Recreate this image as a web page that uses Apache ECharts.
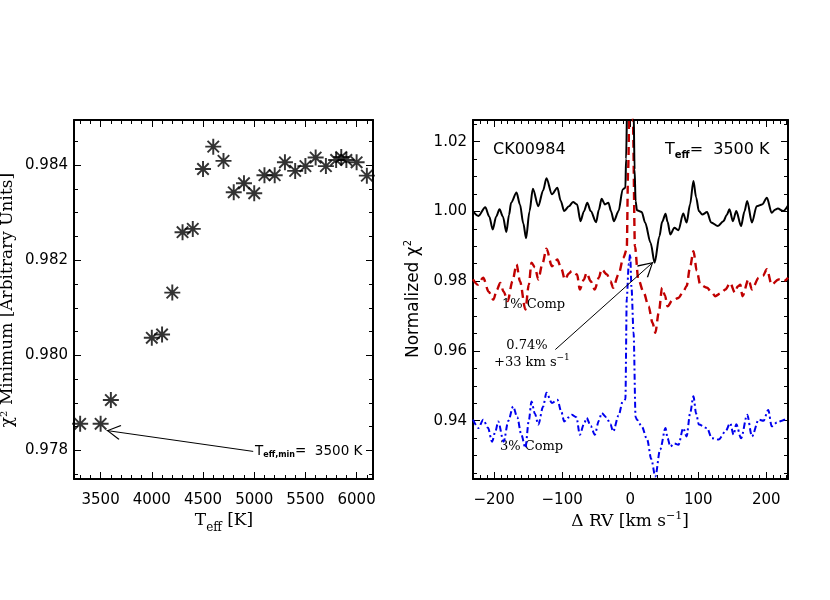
<!DOCTYPE html>
<html>
<head>
<meta charset="utf-8">
<script src="https://cdn.jsdelivr.net/npm/echarts@6.0.0/dist/echarts.min.js"></script>
<style>
html, body { margin: 0; padding: 0; background: #fff; }
#chart { width: 830px; height: 600px; }
</style>
</head>
<body>
<div id="chart"></div>
<script>
// left panel: chi^2 minimum for each template temperature
const teff = [3300, 3500, 3600, 4000, 4100, 4200, 4300, 4400, 4500, 4600, 4700, 4800, 4900,
  5000, 5100, 5200, 5300, 5400, 5500, 5600, 5700, 5800, 5850, 5900, 6000, 6100];
const chiMin = [0.97856, 0.97856, 0.97906, 0.98037, 0.98044, 0.98132, 0.98259, 0.98266, 0.98392,
  0.98439, 0.98409, 0.98343, 0.98362, 0.98341, 0.98379, 0.98379, 0.98406, 0.98388, 0.98398,
  0.98416, 0.98398, 0.98411, 0.98417, 0.98411, 0.98406, 0.98378];

// right panel: normalized chi^2 against RV shift
const rvSolid = [-231, -223, -213, -207, -202, -197, -192, -187, -182, -178, -175, -167, -162, -157, -153,
  -148, -143, -135, -128, -123, -115, -107, -102, -97, -90, -84, -78, -73, -68, -63, -58, -50, -46, -42,
  -37, -32, -28, -24, -17, -11, -7, -6, -4, -1, 2, 5, 6.5, 8, 10, 17, 22, 30, 36, 43, 47, 52, 55, 59, 65,
  71, 78, 83, 88, 93, 97, 101, 106, 113, 119, 129, 137, 142, 146, 151, 156, 163, 168, 172, 179, 186,
  194, 201, 208, 213, 217, 225, 232];
const chiSolid = [1.0000, 0.9987, 1.0012, 0.9985, 0.9948, 0.9985, 1.0006, 0.9985, 0.9941, 0.9990, 1.0025,
  1.0054, 1.0020, 0.9965, 0.9923, 1.0000, 1.0065, 1.0015, 1.0060, 1.0095, 1.0049, 1.0068, 1.0030, 1.0001,
  1.0015, 1.0027, 1.0020, 0.9972, 1.0000, 1.0025, 1.0001, 0.9969, 1.0005, 1.0036, 1.0020, 1.0025, 1.0000,
  0.9972, 1.0001, 1.0063, 1.0068, 1.0150, 1.0350, 1.0580, 1.0580, 1.0300, 1.0120, 1.0030, 1.0003, 0.9998,
  0.9968, 0.9910, 0.9853, 0.9929, 0.9970, 0.9993, 0.9970, 0.9934, 0.9953, 0.9946, 0.9994, 0.9968, 1.0020,
  1.0087, 1.0040, 1.0001, 0.9991, 0.9998, 0.9968, 0.9958, 0.9972, 0.9990, 1.0006, 0.9972, 1.0001, 0.9958,
  1.0000, 1.0030, 0.9968, 1.0015, 1.0020, 1.0039, 0.9996, 1.0005, 1.0008, 1.0001, 1.0017];

const rvComp1 = [-231, -224, -216, -208, -201, -196, -191, -186, -180, -173, -167, -162, -154, -149, -145,
  -140, -135, -129, -123, -115, -107, -101, -96, -90, -86, -78, -74, -68, -64, -58, -52, -46, -42, -34,
  -29, -25, -17, -10, -5, -3, 0, 2, 4, 7, 12, 20, 27, 33, 37, 42, 47, 51, 55, 62, 71, 78, 83, 88, 93, 98,
  103, 113, 119, 125, 133, 140, 147, 154, 158, 162, 165, 174, 179, 189, 195, 201, 208, 218, 226, 232];
const chiComp1 = [0.9805, 0.9790, 0.9810, 0.9770, 0.9747, 0.9775, 0.9795, 0.9770, 0.9743, 0.9800, 0.9848,
  0.9800, 0.9719, 0.9790, 0.9853, 0.9840, 0.9805, 0.9850, 0.9893, 0.9843, 0.9862, 0.9835, 0.9805, 0.9822,
  0.9829, 0.9819, 0.9776, 0.9805, 0.9824, 0.9800, 0.9776, 0.9810, 0.9834, 0.9819, 0.9800, 0.9781, 0.9820,
  0.9867, 0.9891, 1.0120, 1.0450, 1.0500, 1.0260, 0.9900, 0.9805, 0.9767, 0.9728, 0.9680, 0.9652, 0.9710,
  0.9781, 0.9760, 0.9728, 0.9745, 0.9752, 0.9770, 0.9786, 0.9840, 0.9886, 0.9830, 0.9790, 0.9781, 0.9770,
  0.9757, 0.9765, 0.9776, 0.9795, 0.9767, 0.9785, 0.9790, 0.9757, 0.9805, 0.9776, 0.9810, 0.9815, 0.9834,
  0.9790, 0.9805, 0.9800, 0.9810];

const rvComp3 = [-231, -223, -216, -209, -203, -198, -194, -186, -179, -172, -166, -160, -154, -149, -145,
  -140, -135, -128, -123, -115, -107, -101, -97, -90, -86, -79, -74, -68, -64, -58, -52, -46, -42, -35,
  -29, -25, -17, -11, -7, -5, -2, 0, 2, 5, 8, 10, 17, 25, 31, 37, 44, 52, 55, 59, 65, 71, 78, 83, 88, 93,
  97, 101, 113, 120, 130, 140, 147, 152, 156, 163, 172, 179, 189, 196, 203, 208, 216, 223, 231];
const chiComp3 = [0.9403, 0.9379, 0.9403, 0.9380, 0.9340, 0.9370, 0.9398, 0.9340, 0.9400, 0.9441, 0.9410,
  0.9360, 0.9322, 0.9400, 0.9455, 0.9420, 0.9389, 0.9440, 0.9480, 0.9451, 0.9460, 0.9425, 0.9398, 0.9410,
  0.9417, 0.9410, 0.9360, 0.9390, 0.9408, 0.9385, 0.9360, 0.9400, 0.9422, 0.9410, 0.9390, 0.9369, 0.9415,
  0.9455, 0.9461, 0.9750, 0.9850, 0.9877, 0.9780, 0.9653, 0.9410, 0.9403, 0.9384, 0.9346, 0.9290, 0.9240,
  0.9317, 0.9379, 0.9350, 0.9326, 0.9335, 0.9331, 0.9379, 0.9355, 0.9420, 0.9470, 0.9420, 0.9389, 0.9379,
  0.9350, 0.9346, 0.9369, 0.9393, 0.9360, 0.9390, 0.9350, 0.9417, 0.9355, 0.9403, 0.9400, 0.9431, 0.9384,
  0.9395, 0.9400, 0.9408];

// tick labels
const teffTicks = [3500, 4000, 4500, 5000, 5500, 6000];
const chiTicks = [0.978, 0.980, 0.982, 0.984];
const rvTicks = [-200, -100, 0, 100, 200];
const normTicks = [0.94, 0.96, 0.98, 1.00, 1.02];

function steps(from, to, step, dec) {
  const out = [];
  const n = Math.round((to - from) / step);
  for (let i = 0; i <= n; i++) out.push(+(from + i * step).toFixed(dec));
  return out;
}
const teffMinor = steps(3300, 6100, 100, 0);
const chiMinor = steps(0.9775, 0.985, 0.0005, 4);
const rvMinor = steps(-230, 230, 10, 0);
const normMinor = steps(0.925, 1.025, 0.005, 3);

const asterisk = 'path://M-0.85,-7L-0.85,7L0.85,7L0.85,-7Z M-7,0.85L7,0.85L7,-0.85L-7,-0.85Z ' +
  'M-5.6,-4.4L4.4,5.6L5.6,4.4L-4.4,-5.6Z M-4.4,5.6L5.6,-4.4L4.4,-5.6L-5.6,4.4Z';
// open arrow head; tiny dots pad the box to 30x30 so the tip sits at its centre
const openHead = 'path://M8,0L16,14L15,15L8,2.2L1,15L0,14Z M8,-15L8.01,-15L8,-14.99Z ' +
  'M-7,0L-6.99,0L-7,0.01Z M23,0L23.01,0L23,0.01Z';

function boxAxes(grid, min, max, major, minor, fmt, dir) {
  const pos = dir === 'x' ? ['bottom', 'top'] : ['left', 'right'];
  const base = { gridIndex: grid, type: 'value', min: min, max: max, splitLine: { show: false } };
  const line = { show: true, onZero: false, lineStyle: { color: '#000', width: 2 } };
  const noLine = { show: false, onZero: false };
  const tick = (vals, len) => ({ show: true, inside: true, length: len, customValues: vals,
    lineStyle: { color: '#000', width: 1 } });
  return [
    Object.assign({}, base, { position: pos[0], axisLine: line, axisTick: tick(major, 7),
      axisLabel: { show: true, customValues: major, formatter: fmt, color: '#000',
        fontFamily: 'DejaVu Sans', fontSize: 15, margin: dir === 'x' ? 14 : 6 } }),
    Object.assign({}, base, { position: pos[0], axisLine: noLine, axisTick: tick(minor, 4), axisLabel: { show: false } }),
    Object.assign({}, base, { position: pos[1], axisLine: line, axisTick: tick(major, 7), axisLabel: { show: false } }),
    Object.assign({}, base, { position: pos[1], axisLine: noLine, axisTick: tick(minor, 4), axisLabel: { show: false } })
  ];
}

const fmtRv = v => (v < 0 ? '\u2212' + Math.abs(v) : String(v));

const serif = 'DejaVu Serif';
const sans = 'DejaVu Sans';
function richSet(family, size, subSize, bold) {
  return {
    m: { fontFamily: family, fontSize: size, lineHeight: size + 2, verticalAlign: 'top', fill: '#000' },
    b: { fontFamily: family, fontSize: subSize, fontWeight: bold ? 'bold' : 'normal', lineHeight: subSize,
      padding: [Math.round(size * 0.5), 0, 0, 0], verticalAlign: 'top', fill: '#000' },
    p: { fontFamily: family, fontSize: subSize, lineHeight: subSize, padding: [0, 0, Math.round(size * 0.5), 0],
      verticalAlign: 'bottom', fill: '#000' },
    n: { fontFamily: family, fontSize: size, lineHeight: size + 2, verticalAlign: 'bottom', fill: '#000' }
  };
}
function label(x, y, text, rich, align, rot) {
  return { type: 'text', x: x, y: y, rotation: rot || 0, silent: true,
    style: { text: text, rich: rich, align: align || 'left', textAlign: align || 'left',
      verticalAlign: 'middle', textVerticalAlign: 'middle' } };
}

const chart = echarts.init(document.getElementById('chart'), null, { renderer: 'canvas' });
chart.setOption({
  animation: false,
  backgroundColor: '#fff',
  grid: [
    { left: 74, top: 120, width: 299, height: 359 },
    { left: 473, top: 120, width: 315, height: 359 }
  ],
  xAxis: [].concat(
    boxAxes(0, 3240, 6160, teffTicks, teffMinor, v => String(v), 'x'),
    boxAxes(1, -231, 232, rvTicks, rvMinor, fmtRv, 'x')
  ),
  yAxis: [].concat(
    boxAxes(0, 0.9774, 0.98495, chiTicks, chiMinor, v => v.toFixed(3), 'y'),
    boxAxes(1, 0.9233, 1.0262, normTicks, normMinor, v => v.toFixed(2), 'y')
  ),
  series: [
    {
      type: 'scatter', xAxisIndex: 0, yAxisIndex: 0,
      data: teff.map((t, i) => [t, chiMin[i]]),
      symbol: asterisk, symbolSize: 16, itemStyle: { color: '#000' },
      markLine: {
        silent: true, animation: false, label: { show: false },
        lineStyle: { color: '#000', width: 1, type: 'solid' },
        symbol: ['none', openHead], symbolSize: 28,
        data: [[{ coord: [4990, 0.97798] }, { coord: [3558, 0.97842] }]]
      }
    },
    {
      type: 'line', xAxisIndex: 4, yAxisIndex: 4,
      data: rvComp3.map((r, i) => [r, chiComp3[i]]),
      showSymbol: false, smooth: 0.3, smoothMonotone: 'x',
      lineStyle: { color: '#0000ee', width: 2, type: [6, 3, 2, 3] }
    },
    {
      type: 'line', xAxisIndex: 4, yAxisIndex: 4,
      data: rvComp1.map((r, i) => [r, chiComp1[i]]),
      showSymbol: false, smooth: 0.3, smoothMonotone: 'x',
      lineStyle: { color: '#c00000', width: 2.4, type: [8, 5] }
    },
    {
      type: 'line', xAxisIndex: 4, yAxisIndex: 4,
      data: rvSolid.map((r, i) => [r, chiSolid[i]]),
      showSymbol: false, smooth: 0.3, smoothMonotone: 'x',
      lineStyle: { color: '#000', width: 2 },
      markLine: {
        silent: true, animation: false, label: { show: false },
        lineStyle: { color: '#000', width: 1, type: 'solid' },
        symbol: ['none', openHead], symbolSize: 30,
        data: [[{ coord: [-110, 0.9604] }, { coord: [34, 0.9855] }]]
      }
    }
  ],
  graphic: [
    label(9, 300, '{m|\u03c7}{p|2}{m| Minimum [Arbitrary Units]}', richSet(serif, 17, 10), 'center', Math.PI / 2),
    label(224, 522, '{m|T}{b|eff}{m| [K]}', richSet(serif, 17, 12), 'center'),
    label(413, 299, '{n|Normalized }{n|\u03c7}{p|2}', richSet(sans, 17, 10), 'center', Math.PI / 2),
    label(630, 521, '{n|\u0394 RV [km s}{p|\u22121}{n|]}', richSet(serif, 17, 11), 'center'),
    label(255, 452, '{m|T}{b|eff,min}{m|=  3500 K}', richSet(sans, 13.5, 8, true), 'left'),
    label(493, 151, '{m|CK00984}', richSet(sans, 16, 10), 'left'),
    label(665, 151, '{m|T}{b|eff}{m|=  3500 K}', richSet(sans, 16, 10, true), 'left'),
    label(502, 306, '{m|1% Comp}', richSet(serif, 13, 9), 'left'),
    label(527, 347, '{m|0.74%}', richSet(serif, 13, 9), 'center'),
    label(494, 362, '{n|+33 km s}{p|\u22121}', richSet(serif, 13, 9), 'left'),
    label(500, 448, '{m|3% Comp}', richSet(serif, 13, 9), 'left')
  ]
});
</script>
</body>
</html>
